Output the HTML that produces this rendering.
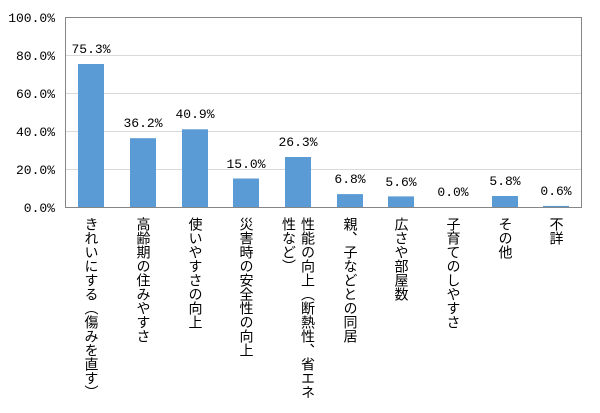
<!DOCTYPE html>
<html><head><meta charset="utf-8"><style>
body{margin:0;background:#fff;width:600px;height:413px;overflow:hidden;position:relative;font-family:"Liberation Sans","Noto Sans CJK JP",sans-serif}
.v{position:absolute;top:217px;writing-mode:vertical-rl;font-size:14px;line-height:19px;color:#000;font-family:"Liberation Sans","Noto Sans CJK JP",sans-serif;transform:translateX(-50%);white-space:nowrap}
</style></head><body>
<svg width="600" height="413" style="position:absolute;left:0;top:0">
<g stroke="#d9d9d9" stroke-width="1">
<line x1="65" x2="582" y1="55.5" y2="55.5"/><line x1="65" x2="582" y1="93.5" y2="93.5"/>
<line x1="65" x2="582" y1="131.5" y2="131.5"/><line x1="65" x2="582" y1="169.5" y2="169.5"/>
</g>
<rect x="65.5" y="17.5" width="516" height="190" fill="none" stroke="#868686"/>
<g fill="#5b9bd5">
<rect x="78" y="64" width="26" height="143"/>
<rect x="130" y="138.2" width="26" height="68.8"/>
<rect x="182" y="129.3" width="26" height="77.7"/>
<rect x="233" y="178.5" width="26" height="28.5"/>
<rect x="285" y="157" width="26" height="50"/>
<rect x="337" y="194.1" width="26" height="12.9"/>
<rect x="388" y="196.4" width="26" height="10.6"/>
<rect x="492" y="196" width="26" height="11"/>
<rect x="543" y="205.9" width="26" height="1.1"/>
</g>
<g font-family="Liberation Mono, monospace" font-size="13" fill="#000" text-anchor="end">
<text x="55" y="22">100.0%</text><text x="55" y="60">80.0%</text><text x="55" y="98">60.0%</text>
<text x="55" y="136">40.0%</text><text x="55" y="174">20.0%</text><text x="55" y="212">0.0%</text>
</g>
<g font-family="Liberation Mono, monospace" font-size="13" fill="#000" text-anchor="middle">
<text x="91" y="53">75.3%</text><text x="143" y="127">36.2%</text><text x="195" y="118">40.9%</text>
<text x="246" y="168">15.0%</text><text x="298" y="146">26.3%</text><text x="350" y="183">6.8%</text>
<text x="401" y="186">5.6%</text><text x="453" y="196">0.0%</text><text x="505" y="185">5.8%</text>
<text x="556" y="195">0.6%</text>
</g>
</svg>
<div class="v" style="left:91px">きれいにする（傷みを直す）</div>
<div class="v" style="left:143px">高齢期の住みやすさ</div>
<div class="v" style="left:195px">使いやすさの向上</div>
<div class="v" style="left:246px">災害時の安全性の向上</div>
<div class="v" style="left:298px">性能の向上（断熱性、省エネ<br>性など）</div>
<div class="v" style="left:350px">親、子などとの同居</div>
<div class="v" style="left:401px">広さや部屋数</div>
<div class="v" style="left:453px">子育てのしやすさ</div>
<div class="v" style="left:505px">その他</div>
<div class="v" style="left:556px">不詳</div>
</body></html>
